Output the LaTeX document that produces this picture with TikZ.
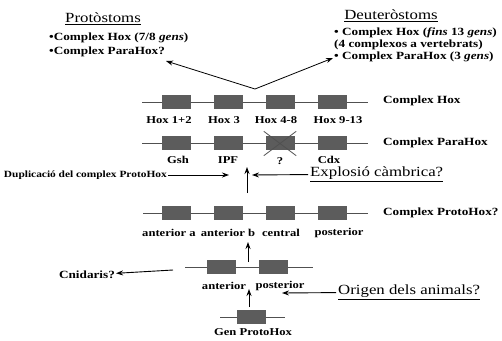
\documentclass[tikz,border=0pt]{standalone}
\usepackage{fontspec}
\setmainfont[FakeStretch=1.2]{Liberation Serif}
\usetikzlibrary{arrows.meta}
\definecolor{genegrey}{HTML}{5C5C5C}
\definecolor{strandgrey}{HTML}{505050}

\begin{document}
\begin{tikzpicture}[x=1pt,y=-1pt,
  gene/.style={fill=genegrey,draw=genegrey,minimum width=28pt,minimum height=13pt,inner sep=0pt},
  strand/.style={draw=strandgrey,line width=1pt},
  lbl/.style={font=\bfseries\fontsize{11}{13}\selectfont,inner sep=1pt},
  small/.style={font=\bfseries\fontsize{10.5}{12}\selectfont,inner sep=1pt},
  big/.style={font=\fontsize{14}{16}\selectfont,inner sep=2pt},
  arr/.style={-{Stealth[length=7pt,width=5pt]},line width=0.9pt}]
\useasboundingbox (0,0) rectangle (502,340);

\node[big] (proto) at (103,19) {\underline{Protòstoms}};
\node[lbl,anchor=west] (pb1) at (48,38) {•Complex Hox (7/8 \textit{gens})};
\node[lbl,anchor=west] (pb2) at (48,52) {•Complex ParaHox?};
\node[big] (deut) at (391,16) {\underline{Deuteròstoms}};
\node[lbl,anchor=west] (db1) at (333,33) {• Complex Hox (\textit{fins} 13 \textit{gens})};
\node[lbl,anchor=west] (db2) at (333,45) {(4 complexos a vertebrats)};
\node[lbl,anchor=west] (db3) at (333,57) {• Complex ParaHox (3 \textit{gens})};

\coordinate (apex) at (255,89);
\coordinate (protoT) at (166,61);
\coordinate (deutT) at (333,58);
\draw[line width=0.8pt,-{Stealth[length=7pt,width=5pt]}] (apex) -- (protoT);
\draw[line width=0.8pt,-{Stealth[length=7pt,width=5pt]}] (apex) -- (deutT);

\coordinate (hoxL) at (142,102);
\coordinate (hoxR) at (368,102);
\draw[strand] (hoxL) -- (hoxR);
\node[gene] (hox1) at (176,102) {};
\node[gene] (hox2) at (228,102) {};
\node[gene] (hox3) at (280,102) {};
\node[gene] (hox4) at (332,102) {};
\node[small] (hoxn1) at (169,120) {Hox 1+2};
\node[small] (hoxn2) at (224,120) {Hox 3};
\node[small] (hoxn3) at (276,120) {Hox 4-8};
\node[small] (hoxn4) at (338,120) {Hox 9-13};
\node[lbl,anchor=west] (chox) at (382,101) {Complex Hox};

\coordinate (paraL) at (142,143);
\coordinate (paraR) at (368,143);
\draw[strand] (paraL) -- (paraR);
\node[gene] (para1) at (176,143) {};
\node[gene] (para2) at (228,143) {};
\node[gene] (para3) at (280,143) {};
\node[gene] (para4) at (332,143) {};
\draw[strandgrey,line width=0.8pt] ([shift={(-2,-5)}]para3.north west) -- ([shift={(2,6)}]para3.south east);
\draw[strandgrey,line width=0.8pt] ([shift={(-2,6)}]para3.south west) -- ([shift={(2,-5)}]para3.north east);
\node[small] (paran1) at (178,160) {Gsh};
\node[small] (paran2) at (228,160) {IPF};
\node[small] (paran3) at (280,161) {?};
\node[small] (paran4) at (329,160) {Cdx};
\node[lbl,anchor=west] (cpara) at (382,143) {Complex ParaHox};

\node[lbl,font=\bfseries\fontsize{9.5}{11}\selectfont,anchor=east] (dup) at (168,175) {Duplicació del complex ProtoHox};
\coordinate (dupT) at (229,175);
\draw[arr] (dup) -- (dupT);
\coordinate (upA) at (247,193);
\coordinate (upB) at (247,167);
\draw[arr] (upA) -- (upB);
\node[big,anchor=west] (expl) at (308,174) {\underline{Explosió càmbrica?}};
\coordinate (explT) at (252,175);
\draw[arr] (expl) -- (explT);

\coordinate (protL) at (143,213);
\coordinate (protR) at (368,213);
\draw[strand] (protL) -- (protR);
\node[gene] (prot1) at (176,213) {};
\node[gene] (prot2) at (228,213) {};
\node[gene] (prot3) at (280,213) {};
\node[gene] (prot4) at (332,213) {};
\node[small] (protn1) at (169,233) {anterior a};
\node[small] (protn2) at (228,233) {anterior b};
\node[small] (protn3) at (281,233) {central};
\node[small] (protn4) at (339,233) {posterior};
\node[lbl,anchor=west] (cprot) at (382,213) {Complex ProtoHox?};

\coordinate (upC) at (248,262);
\coordinate (upD) at (248,242);
\draw[arr] (upC) -- (upD);

\coordinate (twoL) at (185,267);
\coordinate (twoR) at (313,267);
\draw[strand] (twoL) -- (twoR);
\node[gene] (two1) at (221,267) {};
\node[gene] (two2) at (273,267) {};
\node[small] (twon1) at (224,286) {anterior};
\node[small] (twon2) at (280,286) {posterior};
\node[lbl] (cnid) at (87,275) {Cnidaris?};
\coordinate (cnidS) at (173,270);
\draw[arr] (cnidS) -- (cnid);

\coordinate (upE) at (249,307);
\coordinate (upF) at (249,289);
\draw[arr] (upE) -- (upF);
\node[big,anchor=west] (orig) at (336,292) {\underline{Origen dels animals?}};
\coordinate (origT) at (282,293);
\draw[arr] (orig) -- (origT);

\coordinate (genL) at (220,317);
\coordinate (genR) at (285,317);
\draw[strand] (genL) -- (genR);
\node[gene] (gen1) at (251,317) {};
\node[small] (genn) at (253,332) {Gen ProtoHox};
\end{tikzpicture}
\end{document}
